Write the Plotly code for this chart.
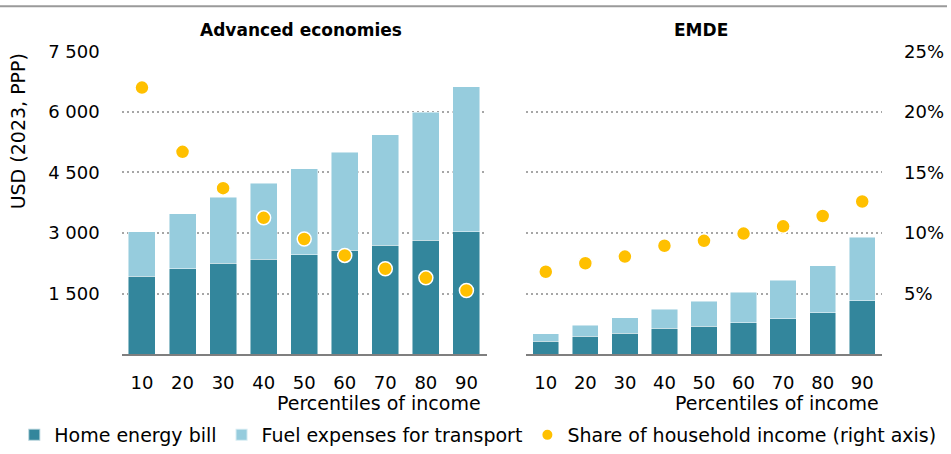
import plotly.graph_objects as go

percentiles = ["10", "20", "30", "40", "50", "60", "70", "80", "90"]

adv_home = [1930, 2110, 2250, 2345, 2460, 2575, 2700, 2825, 3025]
adv_fuel = [1105, 1370, 1640, 1885, 2135, 2425, 2735, 3160, 3600]
adv_share = [22.0, 16.7, 13.7, 11.25, 9.5, 8.15, 7.05, 6.3, 5.25]

emde_home = [325, 445, 515, 640, 695, 775, 880, 1025, 1320]
emde_fuel = [185, 275, 390, 475, 615, 760, 950, 1165, 1575]
emde_share = [6.8, 7.5, 8.05, 8.95, 9.35, 9.95, 10.55, 11.4, 12.6]

left_tickvals = [1500, 3000, 4500, 6000, 7500]
left_ticktext = ["1 500", "3 000", "4 500", "6 000", "7 500"]
right_tickvals = [5, 10, 15, 20, 25]
right_ticktext = ["5%", "10%", "15%", "20%", "25%"]

DARK = "#33869C"
LIGHT = "#96CCDD"
GOLD = "#FFC000"
FONT = "DejaVu Sans"
W, H = 951, 454

fig = go.Figure()

bar_line = dict(color="rgba(255,255,255,0.6)", width=0.8)
fig.add_trace(go.Bar(x=percentiles, y=adv_home, name="Home energy bill",
                     marker=dict(color=DARK, line=bar_line), xaxis="x", yaxis="y",
                     legendgroup="home"))
fig.add_trace(go.Bar(x=percentiles, y=adv_fuel, name="Fuel expenses for transport",
                     marker=dict(color=LIGHT, line=bar_line), xaxis="x", yaxis="y",
                     legendgroup="fuel"))
fig.add_trace(go.Scatter(x=percentiles, y=adv_share, mode="markers",
                         name="Share of household income (right axis)",
                         marker=dict(color=GOLD, size=14, line=dict(color="white", width=1.5)),
                         xaxis="x", yaxis="y2", legendgroup="share"))

fig.add_trace(go.Bar(x=percentiles, y=emde_home, name="Home energy bill",
                     marker=dict(color=DARK, line=bar_line), xaxis="x2", yaxis="y3",
                     legendgroup="home", showlegend=False))
fig.add_trace(go.Bar(x=percentiles, y=emde_fuel, name="Fuel expenses for transport",
                     marker=dict(color=LIGHT, line=bar_line), xaxis="x2", yaxis="y3",
                     legendgroup="fuel", showlegend=False))
fig.add_trace(go.Scatter(x=percentiles, y=emde_share, mode="markers",
                         name="Share of household income (right axis)",
                         marker=dict(color=GOLD, size=14, line=dict(color="white", width=1.5)),
                         xaxis="x2", yaxis="y4", legendgroup="share", showlegend=False))

ydom = [1 - 361.3 / H, 1 - 52.3 / H]
grid = dict(showgrid=True, gridcolor="#A6A6A6", griddash="2px,3px", gridwidth=2)
tickfont = dict(family=FONT, size=18, color="#000000")

xcommon = dict(type="category", range=[-0.5, 8.5], showline=True, linecolor="#7F7F7F",
               linewidth=2, ticks="", tickfont=tickfont, ticklabelstandoff=11,
               showgrid=False, zeroline=False, automargin=False, fixedrange=True)

fig.update_layout(
    width=W, height=H,
    margin=dict(l=0, r=0, t=0, b=0),
    paper_bgcolor="white", plot_bgcolor="white",
    barmode="stack", bargap=0.335,
    font=dict(family=FONT, size=18, color="#000000"),
    showlegend=True,
    legend=dict(orientation="h", x=0.015, xanchor="left", y=1 - 444 / H, yanchor="middle",
                font=dict(family=FONT, size=19, color="#000000"),
                traceorder="normal", itemsizing="constant", bgcolor="rgba(0,0,0,0)"),
    xaxis=dict(domain=[121.7 / W, 486.7 / W], anchor="y", **xcommon),
    xaxis2=dict(domain=[526 / W, 882 / W], anchor="y3", **xcommon),
    yaxis=dict(domain=ydom, range=[0, 7500], tickvals=left_tickvals, ticktext=left_ticktext,
               tickfont=tickfont, ticks="", ticklabelstandoff=21, zeroline=False,
               showline=False, automargin=False, anchor="x", fixedrange=True, **grid),
    yaxis2=dict(overlaying="y", side="right", anchor="x", range=[0, 25], visible=False,
                showgrid=False, zeroline=False, fixedrange=True),
    yaxis3=dict(domain=ydom, range=[0, 7500], anchor="x2", visible=False, showgrid=False,
                zeroline=False, fixedrange=True),
    yaxis4=dict(overlaying="y3", side="right", anchor="x2", range=[0, 25],
                tickvals=right_tickvals, ticktext=right_ticktext, tickfont=tickfont,
                ticks="", ticklabelstandoff=21, zeroline=False, showline=False,
                automargin=False, fixedrange=True, **grid),
    shapes=[dict(type="line", xref="paper", yref="paper", x0=0, x1=947 / W,
                 y0=1 - 6.5 / H, y1=1 - 6.5 / H, line=dict(color="#9A9A9A", width=2))],
    annotations=[
        dict(text="<b>Advanced economies</b>", x=301 / W, y=1 - 31 / H, xref="paper", yref="paper",
             xanchor="center", yanchor="middle", showarrow=False,
             font=dict(family=FONT, size=17, color="#000000")),
        dict(text="<b>EMDE</b>", x=701 / W, y=1 - 31 / H, xref="paper", yref="paper",
             xanchor="center", yanchor="middle", showarrow=False,
             font=dict(family=FONT, size=17, color="#000000")),
        dict(text="USD (2023, PPP)", x=18 / W, y=1 - 134 / H, xref="paper", yref="paper",
             xanchor="center", yanchor="middle", textangle=-90, showarrow=False,
             font=dict(family=FONT, size=19, color="#000000")),
        dict(text="Percentiles of income", x=483 / W, y=1 - 411.5 / H, xref="paper", yref="paper",
             xanchor="right", yanchor="middle", showarrow=False,
             font=dict(family=FONT, size=19, color="#000000")),
        dict(text="Percentiles of income", x=881 / W, y=1 - 411.5 / H, xref="paper", yref="paper",
             xanchor="right", yanchor="middle", showarrow=False,
             font=dict(family=FONT, size=19, color="#000000")),
    ],
)

fig.write_html("out.html", config={"displayModeBar": False},
               post_script="document.body.style.margin='0px';document.body.style.overflow='hidden';")
